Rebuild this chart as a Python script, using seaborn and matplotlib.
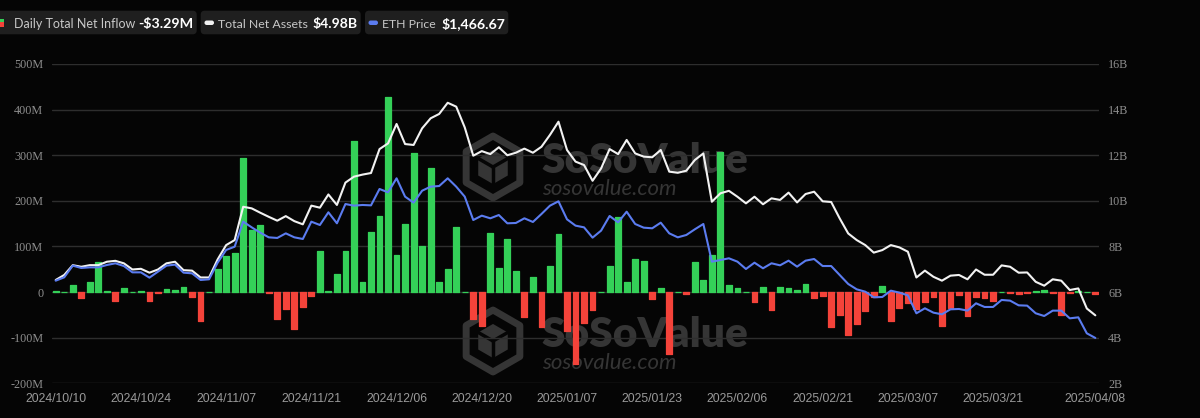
import matplotlib
matplotlib.use("Agg")
import matplotlib.pyplot as plt
from matplotlib.patches import FancyBboxPatch, Polygon, Rectangle
import numpy as np
import pandas as pd
import seaborn as sns

# daily net inflow, $M (one value per trading day, 2024/10/10 .. 2025/04/08)
flows = [3, 0, 16, -12, 23, 67, 2, -20, 10, 1,
         2, -19, -1, 6, 4, 11, -11, -63, 0, 51,
         79, 85, 295, 135, 146, -2, -60, -38, -80, -33,
         -8, 90, 2, 39, 89, 332, 23, 132, 166, 428,
         82, 149, 304, 100, 273, 23, 50, 143, 1, -60,
         -74, 129, 52, 116, 47, -54, 34, -76, 58, 128,
         -86, -158, -68, -39, 1, 58, 165, 23, 73, 69,
         -15, 8, -136, 0, -4, 67, 26, 82, 306, 16,
         9, 0, -22, 11, -40, 12, 10, 4, 18, -13,
         -9, -77, -50, -94, -71, -42, -10, 13, -64, -35,
         -23, -38, -21, -10, -74, -34, -7, -53, -11, -12,
         -19, 0, -2, -5, -3, 3, 4, -2, -51, -2,
         2, 0, -3.29]

# total net assets, $B
assets = [6.53, 6.75, 7.18, 7.11, 7.18, 7.18, 7.33, 7.37, 7.26, 6.99,
          7.02, 6.85, 6.99, 7.26, 7.33, 6.96, 6.94, 6.64, 6.64, 7.43,
          8.06, 8.28, 9.74, 9.67, 9.48, 9.30, 9.13, 9.33, 9.11, 8.97,
          9.79, 9.70, 10.28, 9.82, 10.80, 11.06, 11.15, 11.22, 12.27, 12.52,
          13.37, 12.49, 12.45, 13.18, 13.62, 13.81, 14.30, 14.13, 13.22, 11.98,
          12.18, 12.05, 12.35, 12.00, 12.11, 12.29, 12.11, 12.37, 12.89, 13.47,
          12.23, 11.72, 11.57, 10.88, 11.42, 12.27, 12.05, 12.67, 12.08, 11.94,
          11.91, 12.23, 11.28, 11.23, 11.32, 11.79, 12.08, 9.96, 10.33, 10.44,
          10.18, 9.89, 10.18, 9.85, 10.11, 10.04, 10.36, 9.93, 10.30, 10.40,
          9.98, 9.95, 9.23, 8.57, 8.28, 8.06, 7.73, 7.84, 8.06, 7.96,
          7.77, 6.64, 6.94, 6.67, 6.50, 6.72, 6.75, 6.56, 6.99, 6.76,
          6.76, 7.17, 7.11, 6.85, 6.86, 6.45, 6.28, 6.56, 6.50, 6.09,
          6.16, 5.28, 4.98]

# ETH price, $
eth = [2373, 2426, 2611, 2574, 2584, 2584, 2621, 2648, 2605, 2505,
       2505, 2421, 2516, 2611, 2627, 2500, 2489, 2384, 2395, 2658,
       2859, 2911, 3307, 3217, 3133, 3059, 3049, 3122, 3059, 3033,
       3307, 3254, 3455, 3281, 3586, 3560, 3571, 3565, 3824, 3771,
       3993, 3703, 3608, 3797, 3861, 3871, 3993, 3861, 3703, 3333,
       3402, 3360, 3412, 3281, 3286, 3360, 3302, 3428, 3560, 3629,
       3344, 3244, 3217, 3054, 3165, 3397, 3296, 3465, 3270, 3212,
       3202, 3291, 3122, 3059, 3096, 3186, 3270, 2674, 2700, 2727,
       2674, 2558, 2658, 2569, 2648, 2616, 2690, 2595, 2690, 2716,
       2605, 2605, 2463, 2321, 2236, 2199, 2110, 2115, 2215, 2184,
       2141, 1857, 1936, 1867, 1841, 1920, 1925, 1899, 2015, 1957,
       1957, 2068, 2057, 1983, 1978, 1857, 1814, 1899, 1899, 1777,
       1793, 1540, 1466.67]

holidays = ["2024-11-28", "2024-12-25", "2025-01-01", "2025-01-09",
            "2025-01-20", "2025-02-17"]
tick_dates = ["2024/10/10", "2024/10/24", "2024/11/07", "2024/11/21", "2024/12/06",
              "2024/12/20", "2025/01/07", "2025/01/23", "2025/02/06", "2025/02/21",
              "2025/03/07", "2025/03/21", "2025/04/08"]
left_ticks = [-200, -100, 0, 100, 200, 300, 400, 500]
right_ticks = [2, 4, 6, 8, 10, 12, 14, 16]

BG = "#050505"
GREEN = "#34d058"
RED = "#f4433a"
WHITE = "#f2f2f2"
BLUE = "#5b7cf0"
GRID = "#2e2e2e"
TICK = "#8e8e8e"
WM = "#353535"

days = pd.bdate_range("2024-10-10", "2025-04-08", freq="C", holidays=holidays)
df = pd.DataFrame({"date": days, "flow": flows, "assets": assets, "eth": eth})
df["idx"] = np.arange(len(df))
df["dir"] = np.where(df["flow"] >= 0, "in", "out")
df["label"] = df["date"].dt.strftime("%Y/%m/%d")

sns.set_style("dark", {"axes.facecolor": "none", "figure.facecolor": BG})

fig = plt.figure(figsize=(12, 4.18), dpi=100, facecolor=BG)

# overlay in pixel coordinates (header + watermark), behind the chart
ov = fig.add_axes([0, 0, 1, 1], zorder=-1)
ov.set_xlim(0, 1200)
ov.set_ylim(418, 0)
ov.axis("off")

ax = fig.add_axes([51.7 / 1200, 1 - 383.3 / 418, (1099 - 51.7) / 1200, (383.3 - 64) / 418])
ax.set_facecolor("none")

sns.barplot(data=df, x="idx", y="flow", hue="dir", palette={"in": GREEN, "out": RED},
            dodge=False, width=0.68, saturation=1, legend=False, ax=ax)
for p in ax.patches:
    p.set_edgecolor(p.get_facecolor())
    p.set_linewidth(0.9)
    p.set_joinstyle("round")

ax2 = ax.twinx()
sns.lineplot(data=df, x="idx", y="assets", color=WHITE, lw=1.5, ax=ax2)
ax3 = ax.twinx()
sns.lineplot(data=df, x="idx", y="eth", color=BLUE, lw=1.5, ax=ax3)

ax.set_ylim(-200, 500)
ax2.set_ylim(2, 16)
ax3.set_ylim(749, 5802)
ax.set_xlim(-0.47, 122.43)

ax.set_yticks(left_ticks)
ax.set_yticklabels([f"{v}M" if v != 0 else "0" for v in left_ticks])
ax2.set_yticks(right_ticks)
ax2.set_yticklabels([f"{v}B" for v in right_ticks])
ax3.set_yticks([])
for lbl in ax.get_yticklabels() + ax2.get_yticklabels():
    lbl.set_fontfamily("Liberation Serif")
    lbl.set_fontsize(8.7)
    lbl.set_color(TICK)

tick_idx = [int(df.index[df["label"] == d][0]) for d in tick_dates]
ax.set_xticks(tick_idx)
ax.set_xticklabels(tick_dates)
for lbl in ax.get_xticklabels():
    lbl.set_fontfamily("Liberation Sans")
    lbl.set_fontsize(8.8)
    lbl.set_color("#9a9a9a")

ax.grid(axis="y", color=GRID, lw=1)
ax.grid(axis="x", visible=False)
ax2.grid(False)
ax3.grid(False)
ax.tick_params(axis="y", length=0, pad=6)
ax.tick_params(axis="x", length=0, pad=7)
ax2.tick_params(axis="y", length=0, pad=6.5)
for a in (ax, ax2, ax3):
    a.set_xlabel("")
    a.set_ylabel("")
    for s in a.spines.values():
        s.set_visible(False)

# header legend
for x0, x1 in [(-6, 196.7), (200.7, 360.7), (365, 508.3)]:
    ov.add_patch(FancyBboxPatch((x0, 10.7), x1 - x0, 23.6,
                                boxstyle="round,pad=0,rounding_size=4",
                                fc="#1f1f1f", ec="none"))
ov.add_patch(Rectangle((0, 18.5), 4, 3.5, fc=GREEN, ec="none"))
ov.add_patch(Rectangle((0, 22), 4, 4.5, fc=RED, ec="none"))
ov.add_patch(FancyBboxPatch((204.5, 20.5), 9.5, 4.5, boxstyle="round,pad=0,rounding_size=2.2",
                            fc=WHITE, ec="none"))
ov.add_patch(FancyBboxPatch((368.5, 20.5), 9.5, 4.5, boxstyle="round,pad=0,rounding_size=2.2",
                            fc=BLUE, ec="none"))

# (text, target width px) - sized to the widths seen in the reference
fit_texts = []
hdr = [("Daily Total Net Inflow", 14, 121, "-$3.29M", 138, 55),
       ("Total Net Assets", 218, 90, "$4.98B", 312, 45),
       ("ETH Price", 382, 54, "$1,466.67", 441, 64)]
for lab, lx, lw_, val, vx, vw in hdr:
    t1 = ov.text(lx, 28.2, lab, fontfamily="Lato", fontsize=10, color="#c8c8c8",
                 va="baseline")
    t2 = ov.text(vx, 28.2, val, fontfamily="Lato", fontsize=10, fontweight="bold",
                 color="white", va="baseline")
    fit_texts += [(t1, lw_), (t2, vw)]

# watermarks
for cy in (167, 341):
    r = 31
    hexpts = [(493 + r * np.cos(np.radians(a)), cy + r * np.sin(np.radians(a)))
              for a in range(-90, 270, 60)]
    ov.add_patch(Polygon(hexpts, closed=True, fc="none", ec=WM, lw=5, joinstyle="round"))
    inner = [(493 + 0.55 * r * np.cos(np.radians(a)), cy + 0.55 * r * np.sin(np.radians(a)))
             for a in range(-90, 270, 60)]
    ov.add_patch(Polygon(inner, closed=True, fc=WM, ec="none"))
    for a in (-30, 90, 210):
        ov.plot([493, 493 + 0.55 * r * np.cos(np.radians(a))],
                [cy, cy + 0.55 * r * np.sin(np.radians(a))], color=BG, lw=2.5)
    t1 = ov.text(541, cy + 6, "SoSoValue", fontfamily="Lato", fontsize=30, fontweight="heavy",
                 color=WM, va="baseline")
    t2 = ov.text(542, cy + 28, "sosovalue.com", fontfamily="Lato", fontsize=15,
                 fontstyle="italic", color=WM, va="baseline")
    fit_texts += [(t1, 206), (t2, 135)]

fig.canvas.draw()
rend = fig.canvas.get_renderer()
for t, target in fit_texts:
    w = t.get_window_extent(rend).width
    t.set_fontsize(t.get_fontsize() * target / w)

fig.savefig("out.png", dpi=100, facecolor=BG)
